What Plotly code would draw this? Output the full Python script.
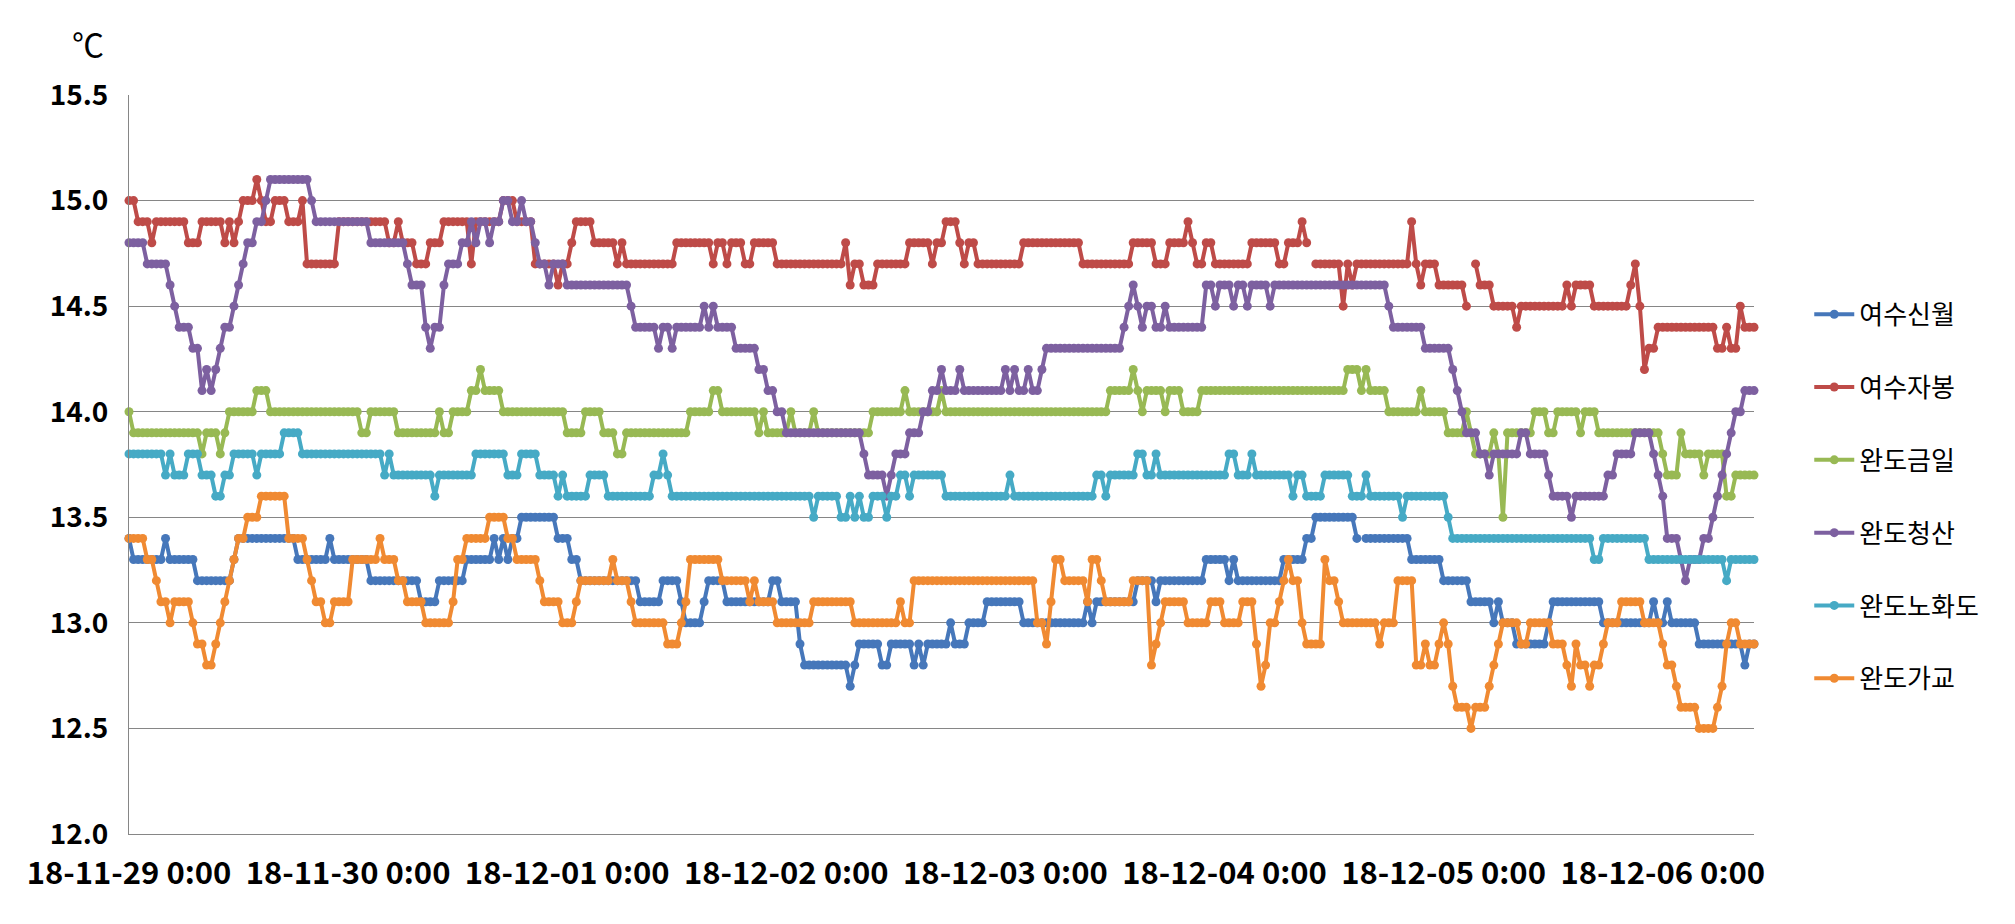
import pandas as pd
import plotly.graph_objects as go

# ---- time axis: half-hourly readings ----
start_time = "2018-11-29 00:00"
n_points = 357
freq = "30min"

day_ticks = ["2018-11-29", "2018-11-30", "2018-12-01", "2018-12-02",
             "2018-12-03", "2018-12-04", "2018-12-05", "2018-12-06"]
day_tick_labels = ["18-11-29 0:00", "18-11-30 0:00", "18-12-01 0:00", "18-12-02 0:00",
                   "18-12-03 0:00", "18-12-04 0:00", "18-12-05 0:00", "18-12-06 0:00"]

y_ticks = [12.0, 12.5, 13.0, 13.5, 14.0, 14.5, 15.0, 15.5]

series_names = ["여수신월", "여수자봉", "완도금일", "완도청산", "완도노화도", "완도가교"]

# ---- values, as (first reading index, value) runs ----
yeosu_sinwol = [(0,13.4),(1,13.3),(8,13.4),(9,13.3),(15,13.2),(23,13.3),(24,13.4),(37,13.3),(44,13.4),(45,13.3),
    (53,13.2),(64,13.1),(68,13.2),(74,13.3),(80,13.4),(81,13.3),(82,13.4),(83,13.3),(84,13.4),(86,13.5),(94,13.4),
    (97,13.3),(99,13.2),(112,13.1),(117,13.2),(121,13.1),(122,13.0),(126,13.1),(127,13.2),(131,13.1),(141,13.2),
    (143,13.1),(147,12.9),(148,12.8),(158,12.7),(159,12.8),(160,12.9),(165,12.8),(167,12.9),(172,12.8),(173,12.9),
    (174,12.8),(175,12.9),(180,13.0),(181,12.9),(184,13.0),(188,13.1),(196,13.0),(210,13.1),(211,13.0),(212,13.1),
    (221,13.2),(225,13.1),(226,13.2),(236,13.3),(241,13.2),(242,13.3),(243,13.2),(253,13.3),(258,13.4),(260,13.5),
    (269,13.4),(270,None),(271,13.4),(281,13.3),(288,13.2),(294,13.1),(299,13.0),(300,13.1),(301,13.0),(304,12.9),
    (311,13.0),(312,13.1),(323,13.0),(334,13.1),(335,13.0),(337,13.1),(338,13.0),(344,12.9),(354,12.8),(355,12.9)]

yeosu_jabong = [(0,15.0),(2,14.9),(5,14.8),(6,14.9),(13,14.8),(16,14.9),(21,14.8),(22,14.9),(23,14.8),(24,14.9),
    (25,15.0),(28,15.1),(29,15.0),(30,14.9),(32,15.0),(35,14.9),(38,15.0),(39,14.7),(46,14.9),(57,14.8),(59,14.9),
    (60,14.8),(63,14.7),(66,14.8),(69,14.9),(75,14.7),(76,14.9),(82,15.0),(85,14.9),(89,14.7),(94,14.6),(95,14.7),
    (97,14.8),(98,14.9),(102,14.8),(107,14.7),(108,14.8),(109,14.7),(120,14.8),(128,14.7),(129,14.8),(131,14.7),
    (132,14.8),(135,14.7),(137,14.8),(142,14.7),(157,14.8),(158,14.6),(159,14.7),(161,14.6),(164,14.7),(171,14.8),
    (176,14.7),(177,14.8),(179,14.9),(182,14.8),(183,14.7),(184,14.8),(186,14.7),(196,14.8),(209,14.7),(220,14.8),
    (225,14.7),(228,14.8),(232,14.9),(233,14.8),(234,14.7),(236,14.8),(238,14.7),(246,14.8),(252,14.7),(254,14.8),
    (257,14.9),(258,14.8),(259,None),(260,14.7),(266,14.5),(267,14.7),(268,14.6),(269,14.7),(281,14.9),(282,14.7),
    (283,14.6),(284,14.7),(287,14.6),(293,14.5),(294,None),(295,14.7),(296,14.6),(299,14.5),(304,14.4),(305,14.5),
    (315,14.6),(316,14.5),(317,14.6),(321,14.5),(329,14.6),(330,14.7),(331,14.5),(332,14.2),(333,14.3),(335,14.4),
    (348,14.3),(350,14.4),(351,14.3),(353,14.5),(354,14.4)]

wando_geumil = [(0,14.0),(1,13.9),(16,13.8),(17,13.9),(20,13.8),(21,13.9),(22,14.0),(28,14.1),(31,14.0),(51,13.9),
    (53,14.0),(59,13.9),(68,14.0),(69,13.9),(71,14.0),(75,14.1),(77,14.2),(78,14.1),(82,14.0),(96,13.9),(100,14.0),
    (104,13.9),(107,13.8),(109,13.9),(123,14.0),(128,14.1),(130,14.0),(138,13.9),(139,14.0),(140,13.9),(145,14.0),
    (146,13.9),(150,14.0),(151,13.9),(163,14.0),(170,14.1),(171,14.0),(178,14.1),(179,14.0),(215,14.1),(220,14.2),
    (221,14.1),(222,14.0),(223,14.1),(227,14.0),(228,14.1),(231,14.0),(235,14.1),(267,14.2),(270,14.1),(271,14.2),
    (272,14.1),(276,14.0),(283,14.1),(284,14.0),(289,13.9),(293,14.0),(294,13.9),(295,13.8),(299,13.9),(300,13.8),
    (301,13.5),(302,13.9),(308,14.0),(311,13.9),(313,14.0),(318,13.9),(319,14.0),(322,13.9),(336,13.8),(337,13.7),
    (340,13.9),(341,13.8),(345,13.7),(346,13.8),(350,13.6),(352,13.7)]

wando_cheongsan = [(0,14.8),(4,14.7),(9,14.6),(10,14.5),(11,14.4),(14,14.3),(16,14.1),(17,14.2),(18,14.1),(19,14.2),
    (20,14.3),(21,14.4),(23,14.5),(24,14.6),(25,14.7),(26,14.8),(28,14.9),(30,15.0),(31,15.1),(40,15.0),(41,14.9),
    (53,14.8),(61,14.7),(62,14.6),(65,14.4),(66,14.3),(67,14.4),(69,14.6),(70,14.7),(73,14.8),(75,14.9),(76,14.8),
    (77,14.9),(79,14.8),(80,14.9),(82,15.0),(84,14.9),(86,15.0),(87,14.9),(89,14.8),(90,14.7),(92,14.6),(93,14.7),
    (96,14.6),(110,14.5),(111,14.4),(116,14.3),(117,14.4),(119,14.3),(120,14.4),(126,14.5),(127,14.4),(128,14.5),
    (129,14.4),(133,14.3),(138,14.2),(140,14.1),(142,14.0),(144,13.9),(161,13.8),(162,13.7),(166,13.6),(167,13.7),
    (168,13.8),(171,13.9),(174,14.0),(176,14.1),(178,14.2),(179,14.1),(182,14.2),(183,14.1),(192,14.2),(193,14.1),
    (194,14.2),(195,14.1),(197,14.2),(198,14.1),(200,14.2),(201,14.3),(218,14.4),(219,14.5),(220,14.6),(221,14.5),
    (222,14.4),(223,14.5),(225,14.4),(227,14.5),(228,14.4),(236,14.6),(238,14.5),(239,14.6),(242,14.5),(243,14.6),
    (245,14.5),(246,14.6),(250,14.5),(251,14.6),(276,14.5),(277,14.4),(284,14.3),(290,14.2),(291,14.1),(292,14.0),
    (293,13.9),(296,13.8),(298,13.7),(299,13.8),(305,13.9),(307,13.8),(311,13.7),(312,13.6),(316,13.5),(317,13.6),
    (324,13.7),(326,13.8),(330,13.9),(334,13.8),(335,13.7),(336,13.6),(337,13.4),(340,13.3),(341,13.2),(342,13.3),
    (345,13.4),(347,13.5),(348,13.6),(349,13.7),(350,13.8),(351,13.9),(352,14.0),(354,14.1)]

wando_nohwado = [(0,13.8),(8,13.7),(9,13.8),(10,13.7),(13,13.8),(16,13.7),(19,13.6),(21,13.7),(23,13.8),(28,13.7),
    (29,13.8),(34,13.9),(38,13.8),(56,13.7),(57,13.8),(58,13.7),(67,13.6),(68,13.7),(76,13.8),(83,13.7),(86,13.8),
    (90,13.7),(94,13.6),(95,13.7),(96,13.6),(101,13.7),(105,13.6),(115,13.7),(117,13.8),(118,13.7),(119,13.6),
    (150,13.5),(151,13.6),(156,13.5),(158,13.6),(159,13.5),(160,13.6),(161,13.5),(163,13.6),(166,13.5),(167,13.6),
    (169,13.7),(171,13.6),(172,13.7),(179,13.6),(193,13.7),(194,13.6),(212,13.7),(214,13.6),(215,13.7),(221,13.8),
    (223,13.7),(225,13.8),(226,13.7),(241,13.8),(243,13.7),(246,13.8),(247,13.7),(255,13.6),(256,13.7),(258,13.6),
    (262,13.7),(268,13.6),(271,13.7),(272,13.6),(279,13.5),(280,13.6),(289,13.5),(290,13.4),(321,13.3),(323,13.4),
    (333,13.3),(350,13.2),(351,13.3)]

wando_gagyo = [(0,13.4),(4,13.3),(6,13.2),(7,13.1),(9,13.0),(10,13.1),(14,13.0),(15,12.9),(17,12.8),(19,12.9),
    (20,13.0),(21,13.1),(22,13.2),(23,13.3),(24,13.4),(26,13.5),(29,13.6),(35,13.4),(39,13.3),(40,13.2),(41,13.1),
    (43,13.0),(45,13.1),(49,13.3),(55,13.4),(56,13.3),(59,13.2),(61,13.1),(65,13.0),(71,13.1),(72,13.3),(74,13.4),
    (79,13.5),(83,13.4),(85,13.3),(90,13.2),(91,13.1),(95,13.0),(98,13.1),(99,13.2),(106,13.3),(107,13.2),(110,13.1),
    (111,13.0),(118,12.9),(121,13.0),(122,13.1),(123,13.3),(130,13.2),(136,13.1),(137,13.2),(138,13.1),(142,13.0),
    (150,13.1),(159,13.0),(169,13.1),(170,13.0),(172,13.2),(199,13.0),(201,12.9),(202,13.1),(203,13.3),(205,13.2),
    (210,13.1),(211,13.3),(213,13.2),(214,13.1),(220,13.2),(224,12.8),(225,12.9),(226,13.0),(227,13.1),(232,13.0),
    (237,13.1),(240,13.0),(244,13.1),(247,12.9),(248,12.7),(249,12.8),(250,13.0),(252,13.1),(253,13.2),(254,13.3),
    (255,13.2),(257,13.0),(258,12.9),(262,13.3),(263,13.2),(265,13.1),(266,13.0),(274,12.9),(275,13.0),(278,13.2),
    (282,12.8),(284,12.9),(285,12.8),(287,12.9),(288,13.0),(289,12.9),(290,12.7),(291,12.6),(294,12.5),(295,12.6),
    (298,12.7),(299,12.8),(300,12.9),(301,13.0),(305,12.9),(307,13.0),(312,12.9),(315,12.8),(316,12.7),(317,12.9),
    (318,12.8),(320,12.7),(321,12.8),(323,12.9),(324,13.0),(327,13.1),(332,13.0),(336,12.9),(337,12.8),(339,12.7),
    (340,12.6),(344,12.5),(348,12.6),(349,12.7),(350,12.9),(351,13.0),(353,12.9)]

series_runs = [yeosu_sinwol, yeosu_jabong, wando_geumil, wando_cheongsan, wando_nohwado, wando_gagyo]
series_colors = ["#4677BA", "#BE4B48", "#98B954", "#7D60A0", "#46AAC5", "#F08A32"]


def expand(runs, n):
    vals = [None] * n
    for i, (s, v) in enumerate(runs):
        e = runs[i + 1][0] if i + 1 < len(runs) else n
        for k in range(s, e):
            vals[k] = v
    return vals


times = pd.date_range(start_time, periods=n_points, freq=freq)

FONT = "Noto Sans CJK KR"
fig = go.Figure()
for name, runs, color in zip(series_names, series_runs, series_colors):
    fig.add_trace(go.Scatter(
        x=times, y=expand(runs, n_points), name=name, legendgroup=name,
        mode="lines+markers", connectgaps=False, cliponaxis=False,
        line=dict(color=color, width=4),
        marker=dict(color=color, size=9, symbol="circle"),
    ))

fig.update_layout(
    width=2000, height=910,
    margin=dict(l=121, r=254, t=87, b=84),
    paper_bgcolor="white", plot_bgcolor="white",
    font=dict(family=FONT, color="black"),
    showlegend=True,
    legend=dict(x=1.034, xanchor="left", y=0.735, yanchor="top",
                font=dict(family=FONT, size=26, color="black"),
                tracegroupgap=36, itemwidth=40, bgcolor="rgba(0,0,0,0)"),
    annotations=[dict(text="℃", xref="paper", yref="paper", x=-0.025, y=1.07,
                      xanchor="center", yanchor="middle", showarrow=False,
                      font=dict(family=FONT, size=32, color="black"))],
)
fig.update_xaxes(
    type="date", range=[times[0], times[-1]],
    tickvals=pd.to_datetime(day_ticks), ticktext=day_tick_labels,
    tickfont=dict(family=FONT, size=31, color="black", weight="bold"),
    showgrid=False, showline=True, linecolor="#868686", linewidth=1,
    ticks="", ticklabelstandoff=12, zeroline=False,
)
fig.update_yaxes(
    range=[12.0, 15.5], tickvals=y_ticks, tickformat=".1f",
    tickfont=dict(family=FONT, size=28, color="black", weight="bold"),
    showgrid=True, gridcolor="#868686", gridwidth=1,
    showline=True, linecolor="#868686", linewidth=1,
    ticks="", ticklabelstandoff=14, zeroline=False,
)

fig.write_html("out.html")
